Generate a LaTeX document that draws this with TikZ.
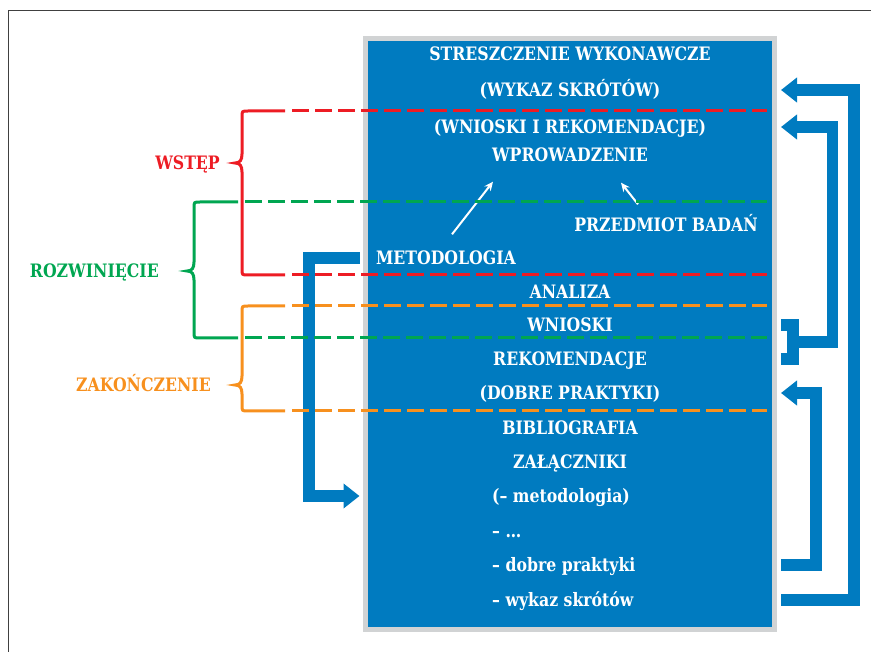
\documentclass[tikz,border=0pt]{standalone}
\usepackage{fontspec}
\setmainfont{DejaVu Serif}[FakeStretch=0.85]
\usepackage{tikz}
\usetikzlibrary{arrows.meta,calc}
\definecolor{boxblue}{RGB}{0,123,192}
\definecolor{framegray}{RGB}{209,211,212}
\definecolor{wred}{RGB}{237,28,36}
\definecolor{wgreen}{RGB}{0,166,81}
\definecolor{worange}{RGB}{247,144,30}
\tikzstyle{txt} = [text=white, font=\fontsize{18.5}{21}\selectfont\bfseries, inner sep=0pt, text height=13pt, text depth=0pt]
\tikzstyle{part} = [font=\fontsize{18.5}{21}\selectfont\bfseries, inner sep=0pt, text height=13pt, text depth=0pt]
\tikzstyle{flow} = [boxblue, line width=11.5pt, -{Triangle[width=24pt,length=16pt]}]
\tikzstyle{brace} = [line width=3pt]
\tikzstyle{cutline} = [line width=3pt, dash pattern=on 17pt off 6pt]
\tikzstyle{hint} = [white, line width=2pt, -{Stealth[length=9pt,width=8pt]}]

\begin{document}
\begin{tikzpicture}[x=1pt,y=-1pt]
\useasboundingbox (0,0) rectangle (871,652);
\draw[black!75, line width=1.3pt] (8.3,652) -- (8.3,10.3) -- (871,10.3);

% the report
\node[draw=framegray, line width=5pt, fill=boxblue, minimum width=409pt, minimum height=591pt, inner sep=0pt] (box) at (570,334) {};
\coordinate (lft) at ([xshift=-3.5pt]box.west);
\coordinate (rgt) at ([xshift=4pt]box.east);

\node[txt] (stresz) at (570,54) {STRESZCZENIE WYKONAWCZE};
\node[txt] (wykaz) at (570,90) {(WYKAZ SKRÓTÓW)};
\node[txt] (wnrek) at (570,127) {(WNIOSKI I REKOMENDACJE)};
\node[txt] (wprow) at (570,155) {WPROWADZENIE};
\node[txt] (przedm) at (666,225) {PRZEDMIOT BADAŃ};
\node[txt] (metod) at (446,258) {METODOLOGIA};
\node[txt] (analiza) at (570,292) {ANALIZA};
\node[txt] (wnioski) at (570,325) {WNIOSKI};
\node[txt] (rekom) at (570,359) {REKOMENDACJE};
\node[txt] (dobre) at (570,393) {(DOBRE PRAKTYKI)};
\node[txt] (biblio) at (570,428) {BIBLIOGRAFIA};
\node[txt] (zal) at (570,462) {ZAŁĄCZNIKI};
\node[txt, anchor=west] (zal1) at (492,496) {(– metodologia)};
\node[txt, anchor=west] (zal2) at (492,531) {– …};
\node[txt, anchor=west] (zal3) at (492,565) {– dobre praktyki};
\node[txt, anchor=west] (zal4) at (492,600) {– wykaz skrótów};

\node[part, text=wred, anchor=east] (wstep) at (220,163) {WSTĘP};
\node[part, text=wgreen, anchor=east] (rozw) at (159,271) {ROZWINIĘCIE};
\node[part, text=worange, anchor=east] (zak) at (211,385) {ZAKOŃCZENIE};

% links
\draw[hint] ([shift={(6,-17)}]metod.north) -- ([shift={(-77,20)}]wprow.south);
\draw[hint] ([shift={(-28,-14)}]przedm.north) -- ([shift={(51,21)}]wprow.south);

\draw[flow] (lft |- metod) -- ++(-50.5,0) |- (lft |- zal1);
\draw[flow] (rgt |- zal4) -- ++(73,0) |- (rgt |- wykaz);
\draw[flow] (rgt |- zal3) -- ++(35,0) |- (rgt |- dobre);
\draw[boxblue, line width=11.5pt] (rgt |- wnioski) -- ++(12,0) |- (rgt |- rekom);
\path (rgt |- wnioski) -- (rgt |- rekom) coordinate[pos=.5] (fork);
\draw[flow] ([xshift=12pt]fork) -- ++(39.3,0) |- (rgt |- wnrek);

% parts
\draw[brace, wred] (285,111) -- (248,111) .. controls (242,111) .. (242,117) -- (242,154)
  .. controls (242,160) and (240,163) .. (235,163) .. controls (240,163) and (242,166) .. (242,172)
  -- (242,269) .. controls (242,275) .. (248,275) -- (285,275);
\draw[brace, wgreen] (238,202) -- (200,202) .. controls (194,202) .. (194,208) -- (194,262)
  .. controls (194,268) and (192,271) .. (187,271) .. controls (192,271) and (194,274) .. (194,280)
  -- (194,332) .. controls (194,338) .. (200,338) -- (238,338);
\draw[brace, worange] (285,306) -- (248,306) .. controls (242,306) .. (242,312) -- (242,376)
  .. controls (242,382) and (240,385) .. (235,385) .. controls (240,385) and (242,388) .. (242,394)
  -- (242,405) .. controls (242,411) .. (248,411) -- (285,411);

\draw[cutline, wred] (292,111) -- (767,111);
\draw[cutline, wred] (292,275) -- (767,275);
\draw[cutline, wgreen] (245,202) -- (767,202);
\draw[cutline, wgreen] (245,338) -- (767,338);
\draw[cutline, worange] (292,306) -- (767,306);
\draw[cutline, worange] (292,411) -- (767,411);
\end{tikzpicture}
\end{document}
